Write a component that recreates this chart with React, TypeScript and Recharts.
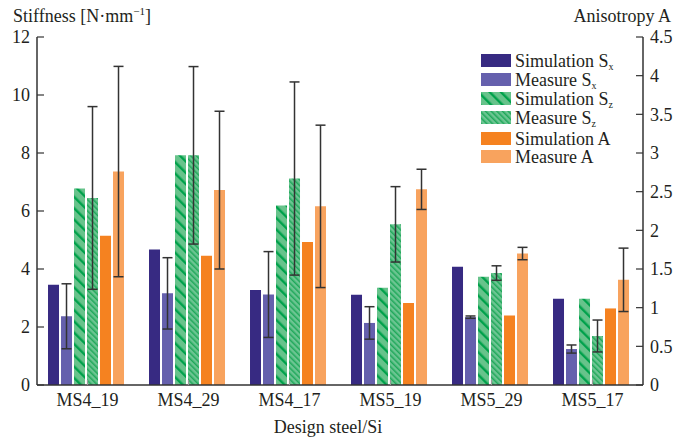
import React from "react";
import { BarChart, Bar, XAxis, YAxis, ErrorBar } from "recharts";

const categories = ["MS4_19", "MS4_29", "MS4_17", "MS5_19", "MS5_29", "MS5_17"];

// stiffness, left axis
const simulationSx = [3.46, 4.67, 3.28, 3.11, 4.08, 2.97];
const measureSx = [2.37, 3.16, 3.12, 2.14, 2.34, 1.24];
const measureSxErr = [1.12, 1.23, 1.48, 0.56, 0.04, 0.14];
const simulationSz = [6.78, 7.92, 6.19, 3.35, 3.73, 2.97];
const measureSz = [6.45, 7.92, 7.12, 5.54, 3.86, 1.69];
const measureSzErr = [3.15, 3.06, 3.33, 1.3, 0.25, 0.55];

// anisotropy, right axis
const simulationA = [1.93, 1.67, 1.85, 1.06, 0.9, 0.99];
const measureA = [2.76, 2.52, 2.31, 2.53, 1.7, 1.36];
const measureAErr = [1.36, 1.02, 1.05, 0.26, 0.08, 0.41];

const leftTicks = [0, 2, 4, 6, 8, 10, 12];
const rightTicks = [0, 0.5, 1, 1.5, 2, 2.5, 3, 3.5, 4, 4.5];

const data = categories.map((name, i) => ({
  name,
  simSx: simulationSx[i],
  measSx: measureSx[i],
  measSxErr: measureSxErr[i],
  simSz: simulationSz[i],
  measSz: measureSz[i],
  measSzErr: measureSzErr[i],
  simA: simulationA[i],
  measA: measureA[i],
  measAErr: measureAErr[i],
}));

const FONT = '"Liberation Serif", "Times New Roman", serif';
const TEXT = "#231f20";
const AXIS = "#333";

const colors = {
  simSx: "#372a82",
  measSx: "#6560ad",
  simA: "#f58220",
  measA: "#f8a35e",
};

const legendItems = [
  { label: "Simulation S", sub: "x", fill: colors.simSx, top: 54 },
  { label: "Measure S", sub: "x", fill: colors.measSx, top: 73 },
  { label: "Simulation S", sub: "z", fill: "url(#hatchSim)", top: 92 },
  { label: "Measure S", sub: "z", fill: "url(#hatchMeas)", top: 111 },
  { label: "Simulation A", sub: "", fill: colors.simA, top: 132 },
  { label: "Measure A", sub: "", fill: colors.measA, top: 150 },
];

const tickStyle = { fontSize: 18, fill: TEXT, fontFamily: FONT };

function Overlay() {
  return (
    <svg
      width={688}
      height={441}
      style={{ position: "absolute", left: 0, top: 0, pointerEvents: "none" }}
    >
      <defs>
        <pattern
          id="hatchSim"
          patternUnits="userSpaceOnUse"
          width={8}
          height={8}
          patternTransform="rotate(-45)"
        >
          <rect x={0} y={0} width={8} height={8} fill="#67c38b" />
          <rect x={0} y={0} width={2.4} height={8} fill="#00a14b" />
        </pattern>
        <pattern
          id="hatchMeas"
          patternUnits="userSpaceOnUse"
          width={4}
          height={4}
          patternTransform="rotate(-45)"
        >
          <rect x={0} y={0} width={4} height={4} fill="#6cc592" />
          <rect x={0} y={0} width={1.5} height={4} fill="#1fa85a" />
        </pattern>
      </defs>

      <text x={13} y={22} fontSize={18} fontFamily={FONT} fill={TEXT}>
        Stiffness [N·mm
        <tspan fontSize={11} dy={-7}>−1</tspan>
        <tspan dy={7}>]</tspan>
      </text>
      <text x={671} y={22} fontSize={18} fontFamily={FONT} fill={TEXT} textAnchor="end">
        Anisotropy A
      </text>
      <text x={328} y={433} fontSize={18} fontFamily={FONT} fill={TEXT} textAnchor="middle">
        Design steel/Si
      </text>

      {legendItems.map((item) => (
        <g key={item.label + item.sub}>
          <rect x={481} y={item.top} width={30} height={13} fill={item.fill} />
          <text x={515} y={item.top + 13} fontSize={18} fontFamily={FONT} fill={TEXT}>
            {item.label}
            {item.sub && (
              <tspan fontSize={10} dy={3}>
                {item.sub}
              </tspan>
            )}
          </text>
        </g>
      ))}
    </svg>
  );
}

export default function App() {
  return (
    <div
      style={{
        position: "absolute",
        left: 0,
        top: 0,
        width: 688,
        height: 441,
        background: "#fff",
      }}
    >
      <BarChart
        width={688}
        height={441}
        data={data}
        margin={{ top: 37, right: 0, bottom: 0, left: 0 }}
        barCategoryGap="10.9%"
        barGap={2}
        style={{ fontFamily: FONT }}
      >
        <XAxis
          xAxisId="top"
          orientation="top"
          dataKey="name"
          height={0}
          tick={false}
          tickSize={-6}
          interval={0}
          axisLine={{ stroke: AXIS, strokeWidth: 1.5 }}
          tickLine={{ stroke: AXIS, strokeWidth: 1.2 }}
        />
        <XAxis
          dataKey="name"
          height={56}
          tickSize={-5}
          tickMargin={13}
          interval={0}
          axisLine={{ stroke: AXIS, strokeWidth: 1.5 }}
          tickLine={{ stroke: "#999", strokeWidth: 1.2 }}
          tick={tickStyle}
        />
        <YAxis
          yAxisId="left"
          width={37}
          domain={[0, 12]}
          ticks={leftTicks}
          interval={0}
          tickSize={-7}
          tickMargin={14}
          axisLine={{ stroke: AXIS, strokeWidth: 1.5 }}
          tickLine={{ stroke: AXIS, strokeWidth: 1.2 }}
          tick={tickStyle}
        />
        <YAxis
          yAxisId="right"
          orientation="right"
          width={45}
          domain={[0, 4.5]}
          ticks={rightTicks}
          interval={0}
          tickSize={-7}
          tickMargin={14}
          axisLine={{ stroke: AXIS, strokeWidth: 1.5 }}
          tickLine={{ stroke: AXIS, strokeWidth: 1.2 }}
          tick={tickStyle}
        />

        <Bar yAxisId="left" dataKey="simSx" fill={colors.simSx} isAnimationActive={false} />
        <Bar yAxisId="left" dataKey="measSx" fill={colors.measSx} isAnimationActive={false}>
          <ErrorBar dataKey="measSxErr" direction="y" width={5} stroke={AXIS} strokeWidth={1.5} />
        </Bar>
        <Bar yAxisId="left" dataKey="simSz" fill="url(#hatchSim)" isAnimationActive={false} />
        <Bar yAxisId="left" dataKey="measSz" fill="url(#hatchMeas)" isAnimationActive={false}>
          <ErrorBar dataKey="measSzErr" direction="y" width={5} stroke={AXIS} strokeWidth={1.5} />
        </Bar>
        <Bar yAxisId="right" dataKey="simA" fill={colors.simA} isAnimationActive={false} />
        <Bar yAxisId="right" dataKey="measA" fill={colors.measA} isAnimationActive={false}>
          <ErrorBar dataKey="measAErr" direction="y" width={5} stroke={AXIS} strokeWidth={1.5} />
        </Bar>
      </BarChart>
      <Overlay />
    </div>
  );
}
